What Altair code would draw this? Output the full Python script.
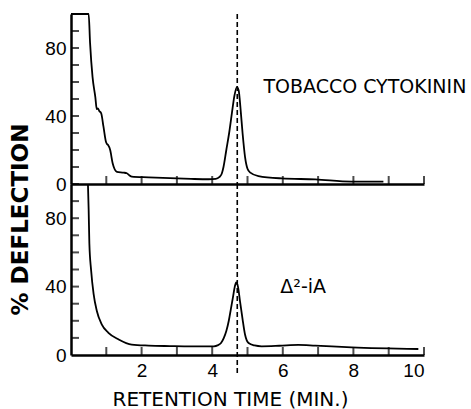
import altair as alt
import pandas as pd

# Tobacco cytokinin trace (retention time in min, % deflection)
tob_t = [0.0, 0.50, 0.54, 0.61, 0.69, 0.73, 0.76, 0.80, 0.855, 0.92, 0.99, 1.02, 1.05, 1.11, 1.18,
         1.30, 1.49, 1.58, 1.65, 1.72, 2.2, 2.8, 3.4, 3.9, 4.10, 4.20, 4.27, 4.32, 4.40, 4.48,
         4.56, 4.63, 4.70, 4.75, 4.80, 4.86, 4.93, 5.00, 5.08, 5.31, 5.97, 6.92, 7.95, 8.85]
tob_v = [100, 100, 83, 63, 51, 44, 44.5, 43, 41.6, 33.7, 24.9, 23.5, 22.9, 20, 12.2,
         7.2, 6.7, 6.3, 5.2, 4.3, 3.9, 3.4, 3.0, 2.8, 3.0, 4.0, 6.0, 10, 20, 30,
         42, 52, 57, 55, 45, 30, 16, 9, 6.7, 4.7, 3.3, 2.7, 1.4, 1.4]

# Delta2-iA trace
ia_t = [0.48, 0.50, 0.52, 0.57, 0.64, 0.73, 0.87, 1.06, 1.35, 1.72, 2.2, 2.8, 3.4, 3.9, 4.05,
        4.15, 4.25, 4.33, 4.40, 4.47, 4.53, 4.59, 4.64, 4.68, 4.73, 4.79, 4.86, 4.93, 5.03,
        5.20, 5.40, 5.9, 6.44, 6.92, 7.95, 9.84]
ia_v = [100, 85, 65.3, 49.5, 35.7, 25.9, 17.9, 13, 9.1, 6.1, 5.5, 5.2, 5.0, 5.0, 5.1,
        5.6, 7.0, 10, 14, 20, 27, 34, 40, 42.5, 40, 31, 21, 12, 7,
        5.6, 5.1, 5.4, 5.9, 5.5, 4.5, 3.5]

x_minor = [1, 2, 3, 4, 5, 6, 7, 8, 9, 10]
y_minor = [10, 20, 30, 40, 50, 60, 70, 80, 90, 100]
x_labels = [2, 4, 6, 8, 10]
y_labels = [0, 40, 80]
peak_time = [4.71]
top_label = "TOBACCO CYTOKININ"
bottom_label = "Δ²-iA"
y_title = "% DEFLECTION"
x_title = "RETENTION TIME (MIN.)"

W, H1, H2 = 353, 170, 171
FONT_NUM = "Liberation Sans"
FONT_TXT = "DejaVu Sans"

xs = alt.Scale(domain=[0, 10], nice=False, zero=False)
ys = alt.Scale(domain=[0, 100], nice=False)

tob_df = pd.DataFrame({"t": tob_t, "v": tob_v})
ia_df = pd.DataFrame({"t": ia_t, "v": ia_v})
xt_df = pd.DataFrame({"t": x_minor})
yt_df = pd.DataFrame({"v": y_minor})
pk_df = pd.DataFrame({"t": peak_time})


def x_axis(show_labels):
    if show_labels:
        return alt.Axis(values=x_labels, ticks=False, labelPadding=6, labelFont=FONT_NUM,
                        labelFontSize=19, labelColor="black", domainColor="black",
                        domainWidth=2.5, grid=False, title=x_title, titleFont=FONT_TXT,
                        titleFontSize=20, titleFontWeight="normal", titleColor="black",
                        titleX=159, titlePadding=9)
    return alt.Axis(labels=False, ticks=False, domainColor="black", domainWidth=2.5,
                    grid=False, title=None)


def y_axis(with_title):
    kw = dict(values=y_labels, ticks=False, labelPadding=5, labelFont=FONT_NUM,
              labelFontSize=19, labelColor="black", domainColor="black", domainWidth=2.5,
              grid=False)
    if with_title:
        kw.update(title=y_title, titleFont=FONT_TXT, titleFontSize=23,
                  titleFontWeight="bold", titleColor="black", titleY=205, titlePadding=12)
    else:
        kw.update(title=None)
    return alt.Axis(**kw)


def panel(df, H, top, label, lx, ly):
    xe = alt.X("t:Q", scale=xs, axis=x_axis(not top))
    ye = alt.Y("v:Q", scale=ys, axis=y_axis(top))
    line = alt.Chart(df).mark_line(color="black", strokeWidth=1.8, interpolate="monotone").encode(x=xe, y=ye)
    yt = alt.Chart(yt_df).mark_tick(color="black", orient="horizontal", size=8, thickness=2,
                                    xOffset=4).encode(x=alt.value(0), y=ye)
    xt = alt.Chart(xt_df).mark_tick(color="black", orient="vertical", size=8, thickness=2,
                                    yOffset=-4).encode(x=xe, y=alt.value(H))
    rule = alt.Chart(pk_df).mark_rule(color="black", strokeWidth=1.6, strokeDash=[5, 3]).encode(
        x=xe, y=alt.value(0), y2=alt.value(H if top else H + 19))
    txt = alt.Chart(pd.DataFrame({"label": [label]})).mark_text(
        align="left", baseline="middle", font=FONT_TXT, fontSize=19, color="black").encode(
        x=alt.datum(lx), y=alt.datum(ly), text="label:N")
    return alt.layer(line, yt, xt, rule, txt).properties(width=W, height=H)


top = panel(tob_df, H1, True, top_label, 5.45, 57)
bottom = panel(ia_df, H2, False, bottom_label, 5.93, 39.6)

chart = alt.vconcat(top, bottom, spacing=0, bounds="flush").properties(
    padding={"left": 9, "top": 10, "right": 0, "bottom": 0},
    background="white",
).configure_view(stroke=None)

chart.save("out.html", embed_options={"renderer": "svg", "actions": False})
